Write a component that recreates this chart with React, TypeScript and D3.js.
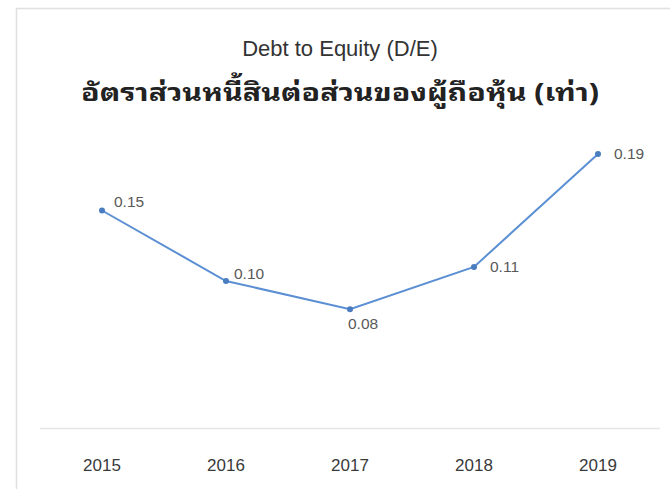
import React from "react";
import * as d3 from "d3";

const years = ["2015", "2016", "2017", "2018", "2019"];
const deRatio = [0.15, 0.1, 0.08, 0.11, 0.19];
const labelText = ["0.15", "0.10", "0.08", "0.11", "0.19"];
const titleEn = "Debt to Equity (D/E)";
const titleTh = "อัตราส่วนหนี้สินต่อส่วนของผู้ถือหุ้น (เท่า)";

const W = 670;
const H = 489;
const FONT = "'Liberation Sans', Arial, 'Noto Sans', sans-serif";
const THAI_FONT =
  "'Noto Sans Thai Looped', Loma, Garuda, Tahoma, 'Liberation Sans', 'Noto Sans Thai', sans-serif";

export default function App() {
  const x = d3.scaleBand<string>().domain(years).range([40, 660]);
  const y = d3.scaleLinear().domain([0, 0.2]).range([422, 140]);
  const cx = (d: string) => (x(d) as number) + x.bandwidth() / 2;
  const line = d3
    .line<number>()
    .x((_, i) => cx(years[i]))
    .y((v) => y(v));

  const offs = [
    { dx: 12, dy: -4 },
    { dx: 8, dy: -2 },
    { dx: -2, dy: 20 },
    { dx: 16, dy: 5 },
    { dx: 16, dy: 5 },
  ];

  return (
    <svg
      width={W}
      height={H}
      style={{ position: "absolute", left: 0, top: 0, display: "block", background: "#fff" }}
    >
      <rect x={16.5} y={8.5} width={660} height={500} fill="#fff" stroke="#e0e0e0" strokeWidth={1.5} />
      <text x={340} y={56} textAnchor="middle" fontFamily={FONT} fontSize={22} fill="#333">
        {titleEn}
      </text>
      <text
        x={340}
        y={101}
        textAnchor="middle"
        fontFamily={THAI_FONT}
        fontSize={25}
        fontWeight="bold"
        fill="#222"
        textLength={518}
        lengthAdjust="spacingAndGlyphs"
      >
        {titleTh}
      </text>
      <line x1={40} x2={660} y1={428.5} y2={428.5} stroke="#e6e6e6" strokeWidth={1.5} />
      {years.map((yr) => (
        <text key={yr} x={cx(yr)} y={471} textAnchor="middle" fontFamily={FONT} fontSize={17} fill="#3a3a3a">
          {yr}
        </text>
      ))}
      <path d={line(deRatio) || ""} fill="none" stroke="#5b8fd3" strokeWidth={2} />
      {deRatio.map((v, i) => (
        <circle key={i} cx={cx(years[i])} cy={y(v)} r={3} fill="#4a7cc0" />
      ))}
      {deRatio.map((v, i) => (
        <text
          key={"l" + i}
          x={cx(years[i]) + offs[i].dx}
          y={y(v) + offs[i].dy}
          textAnchor="start"
          fontFamily={FONT}
          fontSize={15.5}
          fill="#595959"
        >
          {labelText[i]}
        </text>
      ))}
    </svg>
  );
}
